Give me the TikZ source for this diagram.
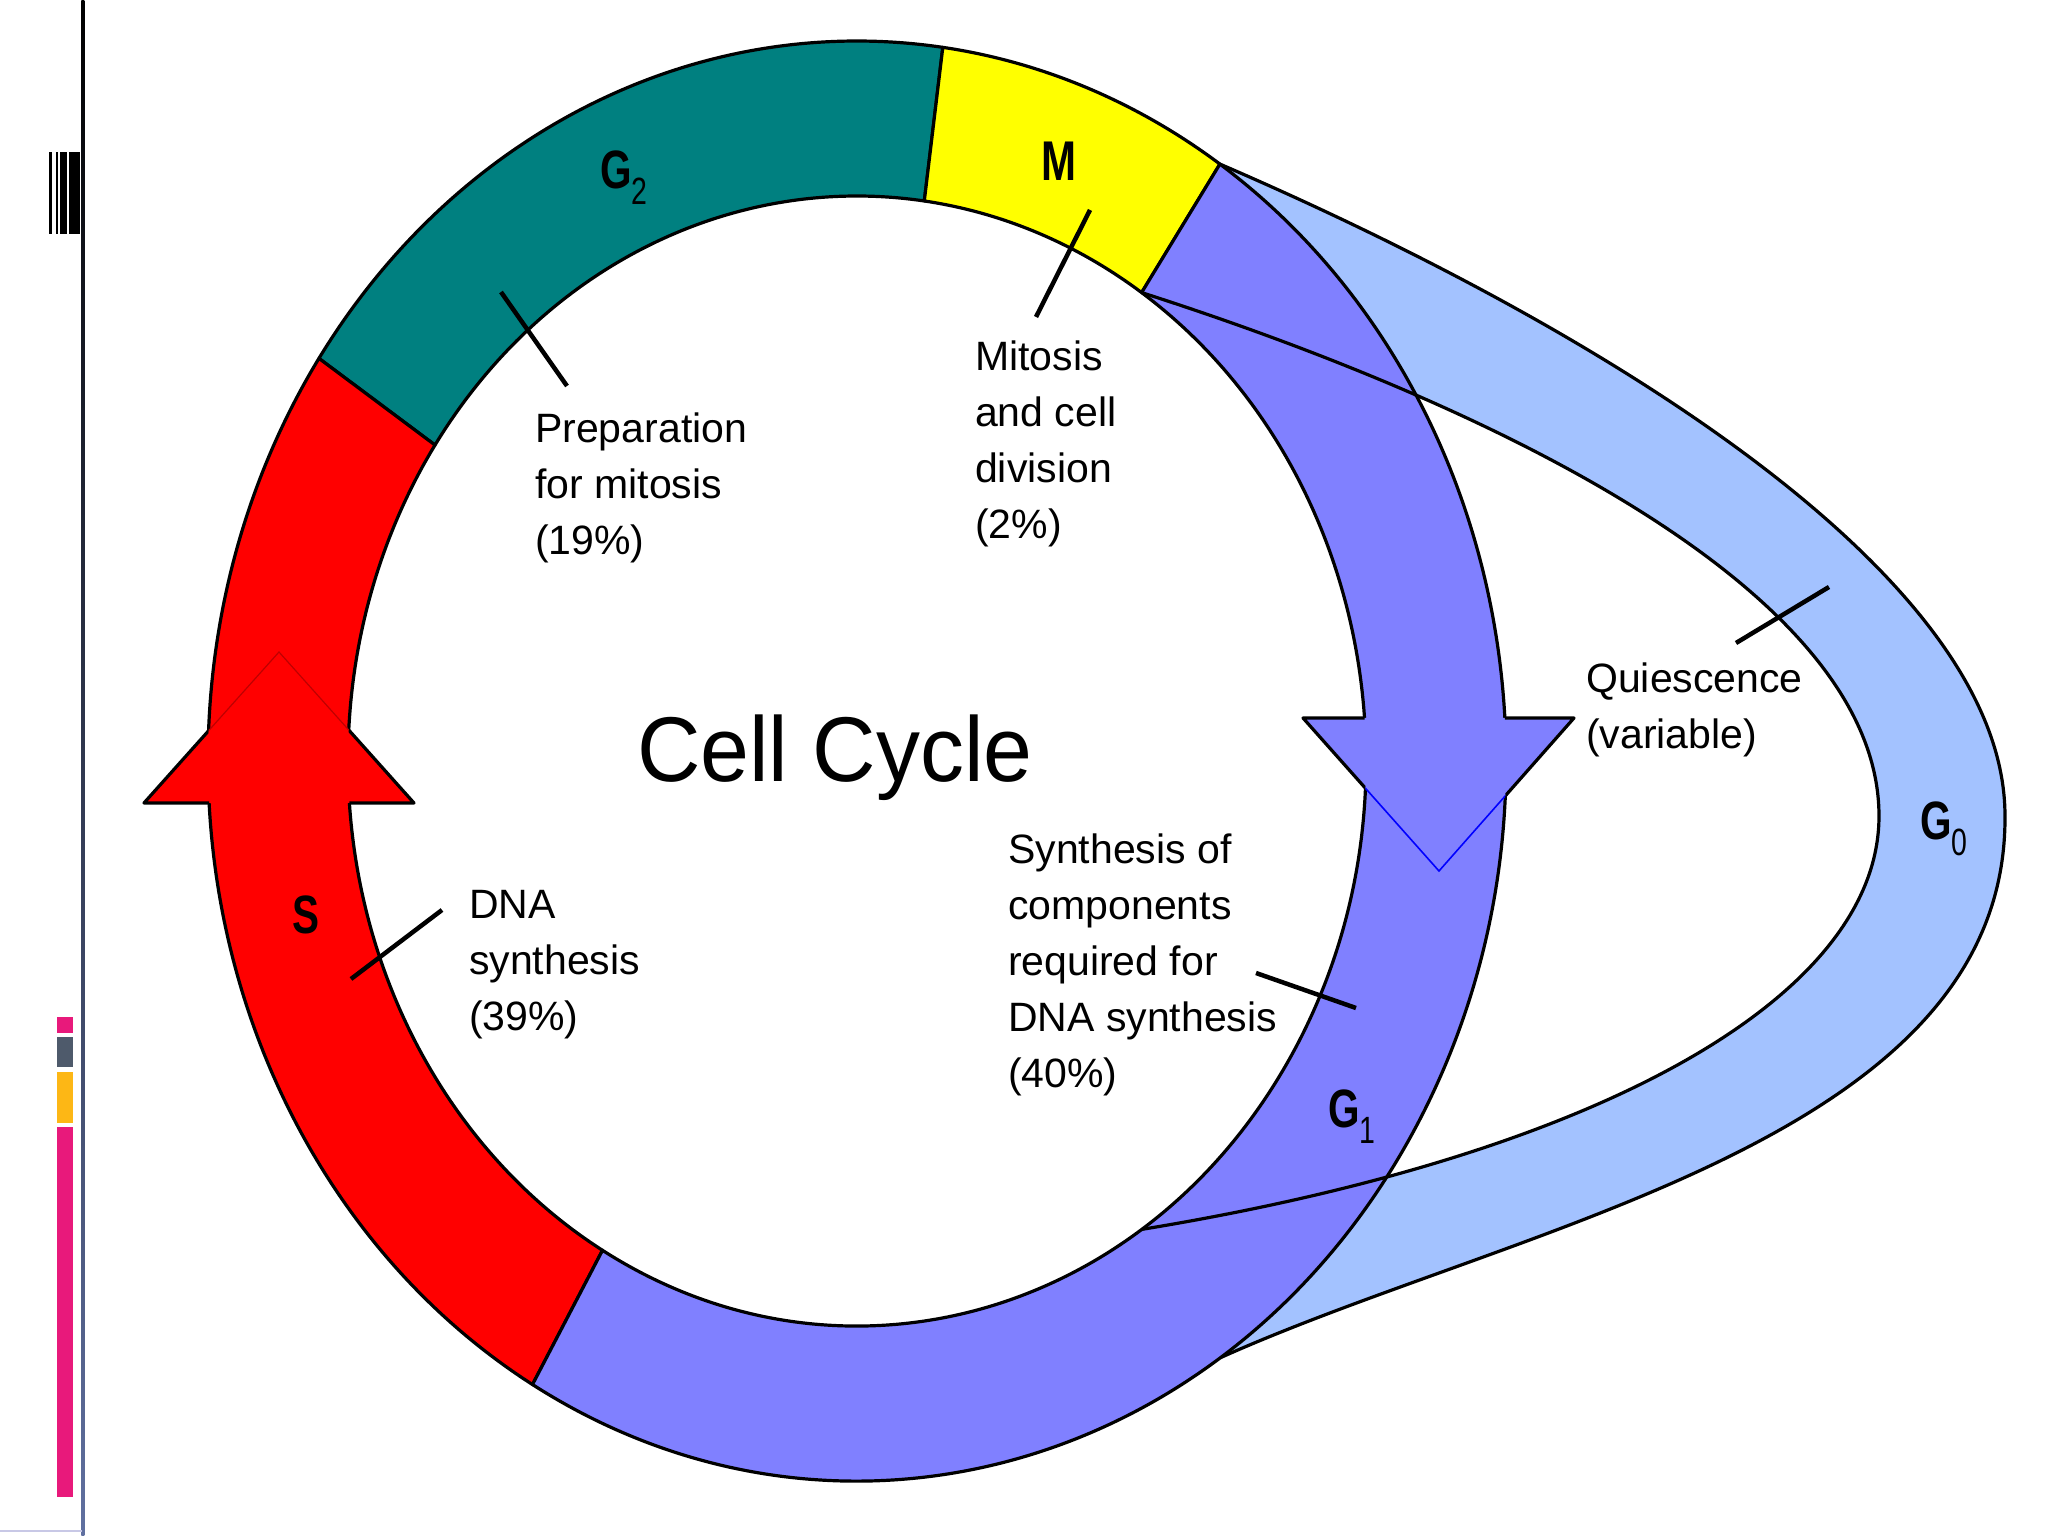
\documentclass[tikz,border=0pt]{standalone}
\usepackage{fontspec}
\setmainfont{Liberation Sans}
\usepackage{graphicx}
\definecolor{tealc}{HTML}{008080}
\definecolor{yellowc}{HTML}{FFFF00}
\definecolor{redc}{HTML}{FF0000}
\definecolor{purplec}{HTML}{8080FF}
\definecolor{lightbluec}{RGB}{163,194,255}
\definecolor{pinkc}{RGB}{232,25,123}
\definecolor{greyc}{RGB}{78,90,107}
\definecolor{orangec}{RGB}{253,183,21}
\definecolor{darkredc}{RGB}{190,0,0}
\definecolor{slatec}{RGB}{96,112,160}
\newcommand{\ringseg}[3]{%
  \filldraw[ringline, fill=#1] (#2:649 and 720)
    arc[start angle=#2, end angle=#3, x radius=649, y radius=720]
    -- (#3:509 and 565)
    arc[start angle=#3, end angle=#2, x radius=509, y radius=565] -- cycle;}
\newcommand{\glab}[1]{\scalebox{0.75}[1]{\bfseries G\raisebox{-16pt}{\mdseries\fontsize{38}{38}\selectfont #1}}}
\begin{document}
\begin{tikzpicture}[x=1pt,y=1pt,
  ringline/.style={draw=black, line width=3.2pt, line join=round},
  leader/.style={draw=black, line width=4.5pt},
  txt/.style={font=\fontsize{41}{56}\selectfont, align=left, anchor=north west, inner sep=0pt},
  biglab/.style={font=\fontsize{54}{60}\selectfont, anchor=base west, inner sep=0pt}]
\useasboundingbox (-857,-775) rectangle (1191,761);
\fill[white] (-857,-775) rectangle (1191,761);

% left decorations
\shade[top color=black, middle color=black, bottom color=slatec] (-775.5,761) rectangle (-772.5,-775);
\draw[line width=1.5pt, color={rgb,255:red,200;green,200;blue,230}] (-857,-770) -- (-775,-770);
\fill[black] (-808,609) rectangle (-805,527);
\fill[black] (-801,609) rectangle (-799,527);
\fill[black] (-797,609) rectangle (-790,527);
\fill[black] (-788,609) rectangle (-777,527);
\fill[pinkc] (-800,-256) rectangle (-784,-272);
\fill[greyc] (-800,-276) rectangle (-784,-306);
\fill[orangec] (-800,-311) rectangle (-784,-362);
\fill[pinkc] (-800,-366) rectangle (-784,-736);

% G0 band
\coordinate (O) at (56:649 and 720);
\coordinate (Ob) at (-56:649 and 720);
\coordinate (I) at (56:509 and 565);
\coordinate (Ib) at (-56:509 and 565);
\coordinate (R) at (1148,-55);
\coordinate (RI) at (1022,-55);
\fill[lightbluec] (O) .. controls (713,446) and (1148,195) .. (R)
  .. controls (1150,-380) and (663,-462) .. (Ob)
  -- (Ib) .. controls (745,-393) and (1022,-235) .. (RI)
  .. controls (1022,170) and (635,356) .. (I) -- cycle;
\draw[ringline] (O) .. controls (713,446) and (1148,195) .. (R)
  .. controls (1150,-380) and (663,-462) .. (Ob);

% ring segments
\ringseg{tealc}{82.4}{146}
\ringseg{yellowc}{56}{82.4}
\ringseg{redc}{146}{240}
\ringseg{purplec}{-120}{56}

% arrow heads
\coordinate (rT) at (-578,109);
\coordinate (rL) at (-713,-42);
\coordinate (rR) at (-443,-42);
\coordinate (pT) at (582,-110);
\coordinate (pL) at (446,43);
\coordinate (pR) at (717,43);
\fill[redc] (rT) -- (rL) -- (rR) -- cycle;
\fill[purplec] (pT) -- (pL) -- (pR) -- cycle;
\begin{scope}[even odd rule]
  \clip (-900,-800) rectangle (1250,800)
    (0,0) ellipse (649 and 720)
    (0,0) ellipse (509 and 565);
  \draw[ringline] (rT) -- (rL) -- (rR) -- cycle;
  \draw[ringline] (pT) -- (pL) -- (pR) -- cycle;
\end{scope}
\begin{scope}[even odd rule]
  \clip (0,0) ellipse (649 and 720)
    (0,0) ellipse (509 and 565);
  \draw[line width=1.2pt, darkredc] (rL) -- (rT) -- (rR);
  \draw[line width=1.6pt, blue] (pL) -- (pT) -- (pR);
\end{scope}

% G0 inner edge on top
\draw[ringline] (I) .. controls (635,356) and (1022,170) .. (RI)
  .. controls (1022,-235) and (745,-393) .. (Ib);

% labels
\node[biglab] (g2) at (-257,572) {\glab{2}};
\node[biglab, font=\fontsize{56}{60}\selectfont] (m) at (184,580) {\scalebox{0.75}[1]{\bfseries M}};
\node[biglab] (s) at (-565,-172) {\scalebox{0.75}[1]{\bfseries S}};
\node[biglab] (g1) at (471,-366) {\glab{1}};
\node[biglab] (g0) at (1063,-79) {\glab{0}};
\node[font=\fontsize{92}{100}\selectfont, anchor=base west, inner sep=0pt] (title) at (-220,-21) {\scalebox{0.955}[1]{Cell Cycle}};

\node[txt] (prep) at (-322,348) {Preparation\\for mitosis\\(19\%)};
\node[txt] (mit) at (118,420) {Mitosis\\and cell\\division\\(2\%)};
\node[txt] (dna) at (-388,-129) {DNA\\synthesis\\(39\%)};
\node[txt] (syn) at (151,-73) {Synthesis of\\components\\required for\\DNA synthesis\\(40\%)};
\node[txt] (qui) at (729,98) {Quiescence\\(variable)};

% leader lines
\coordinate (g2a) at (-356,469); \coordinate (g2b) at (-290,375);
\coordinate (ma) at (233,551); \coordinate (mb) at (179,444);
\coordinate (sa) at (-415,-149); \coordinate (sb) at (-506,-218);
\coordinate (g1a) at (399,-212); \coordinate (g1b) at (499,-247);
\coordinate (g0a) at (879,118); \coordinate (g0b) at (972,174);
\draw[leader] (g2a) -- (g2b);
\draw[leader] (ma) -- (mb);
\draw[leader] (sa) -- (sb);
\draw[leader] (g1a) -- (g1b);
\draw[leader] (g0a) -- (g0b);
\end{tikzpicture}
\end{document}
